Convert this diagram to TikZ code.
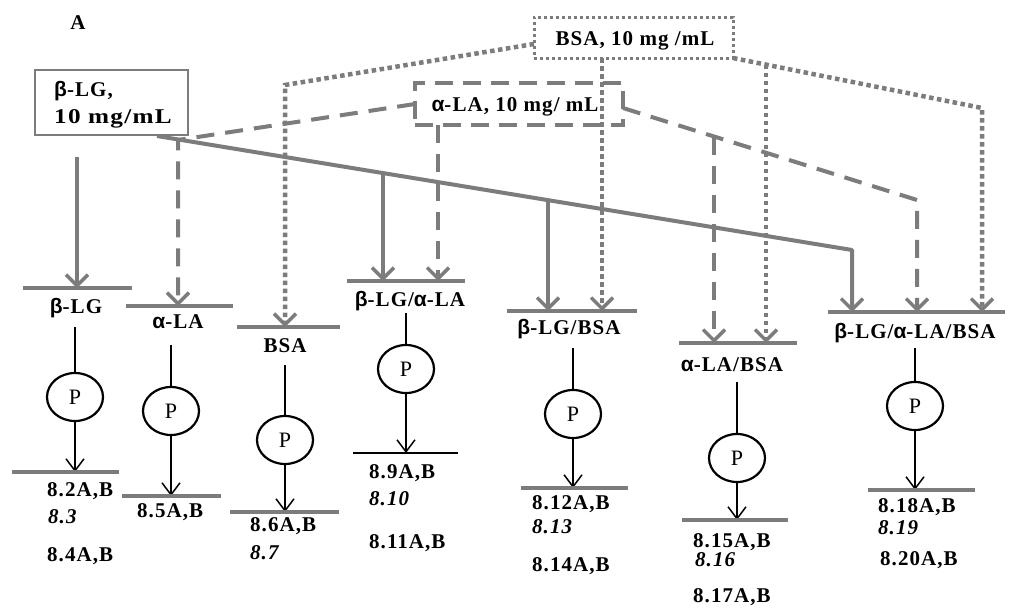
\documentclass[tikz,border=0pt]{standalone}
\usepackage{fontspec}
\setmainfont{Liberation Serif}[LetterSpace=5]
\newfontfamily\gkfont{Liberation Sans}[LetterSpace=5]
\usetikzlibrary{arrows.meta,shapes.geometric}
\definecolor{gcol}{HTML}{7C7C7C}
\newcommand\myb{{\gkfont\bfseries β}}
\newcommand\mya{{\gkfont\bfseries α}}
\tikzset{
  lab/.style={font=\fontsize{21}{23}\selectfont\bfseries, inner sep=0pt},
  labi/.style={font=\fontsize{21}{23}\selectfont\bfseries\itshape, inner sep=0pt},
  gsolid/.style={draw=gcol, line width=4pt, line join=round},
  gtip/.style={-{Straight Barb[length=11pt,width=22pt,line width=3.5pt]}},
  solidarr/.style={gsolid, gtip},
  dasharr/.style={draw=gcol, line width=4pt, dash pattern=on 18pt off 11pt, gtip},
  dotarr/.style={draw=gcol, line width=4.5pt, dash pattern=on 4.5pt off 3.5pt, gtip},
  gbar/.style={draw=gcol, line width=3.5pt},
  kbar/.style={draw=black, line width=2.5pt},
  thinline/.style={draw=black, line width=1.5pt},
  thinarr/.style={thinline, -{Straight Barb[length=12pt,width=18pt,line width=1.5pt]}},
  pnode/.style={ellipse, draw=black, line width=2.2pt, minimum width=56pt, minimum height=48pt, inner sep=0pt, font=\fontsize{22}{22}\selectfont},
}
\begin{document}
\begin{tikzpicture}[x=1pt,y=-1pt]
\useasboundingbox (0,0) rectangle (1010,616);
\fill[white] (0,0) rectangle (1010,616);

% title
\node[lab, anchor=base] (title) at (78,29) {A};

% source boxes
\node[draw=gcol, line width=2.5pt, minimum width=153pt, minimum height=65pt, inner sep=0pt] (boxLG) at (111.5,102.5) {};
\node[lab, anchor=base west] (boxLGa) at (54,96) {\myb-LG,};
\node[lab, anchor=base west] (boxLGb) at (54,123) {\scalebox{1.2}[1]{10 mg/mL}};

\node[draw=gcol, line width=3.5pt, dash pattern=on 18pt off 10pt, minimum width=208pt, minimum height=42pt, inner sep=0pt] (boxLA) at (519,104) {};
\node[lab, anchor=base] (boxLAt) at (515,111) {\mya-LA, 10 mg/ mL};

\node[draw=gcol, line width=3pt, dash pattern=on 3pt off 3pt, minimum width=199pt, minimum height=41pt, inner sep=0pt] (boxBSA) at (633.5,37.5) {};
\node[lab, anchor=base] (boxBSAt) at (635,45) {BSA, 10 mg /mL};

% coordinates
\coordinate (s0) at (157,136);
\coordinate (s3) at (383,173.7);
\coordinate (s5) at (548,200.6);
\coordinate (s7) at (852,250);
\coordinate (lgv) at (77,157);
\coordinate (t1) at (77,288);
\coordinate (t2) at (178,306);
\coordinate (t3) at (285,327);
\coordinate (t4a) at (383,281);
\coordinate (t4b) at (438,281);
\coordinate (t5a) at (548,311);
\coordinate (t5b) at (602,311);
\coordinate (t6a) at (714,343);
\coordinate (t6b) at (766,343);
\coordinate (t7a) at (852,312);
\coordinate (t7b) at (917,312);
\coordinate (t7c) at (982,312);
\coordinate (d0) at (415,104);
\coordinate (d1) at (178,140);
\coordinate (d4) at (438,125);
\coordinate (d6s) at (623,108);
\coordinate (d6) at (714,136.5);
\coordinate (d7) at (917,200);
\coordinate (e0) at (534,44);
\coordinate (e1) at (285,85);
\coordinate (e5) at (602,58);
\coordinate (e6s) at (733,58);
\coordinate (e6) at (766,64.6);
\coordinate (e7) at (982,108);

% solid connectors (beta-LG)
\draw[solidarr] (lgv) -- (t1);
\draw[solidarr] (s0) -- (s7) -- (t7a);
\draw[solidarr] (s3) -- (t4a);
\draw[solidarr] (s5) -- (t5a);

% dashed connectors (alpha-LA)
\draw[dasharr] (d0) -- (d1) -- (t2);
\draw[dasharr] (d4) -- (t4b);
\draw[dasharr] (d6s) -- (d7) -- (t7b);
\draw[dasharr] (d6) -- (t6a);

% dotted connectors (BSA)
\draw[dotarr] (e0) -- (e1) -- (t3);
\draw[dotarr] (e5) -- (t5b);
\draw[dotarr] (e6s) -- (e7) -- (t7c);
\draw[dotarr] (e6) -- (t6b);

% top bars
\draw[gbar] (23,288) -- (132,288);
\draw[gbar] (126,306) -- (233,306);
\draw[gbar] (237,327) -- (340,327);
\draw[gbar] (347,281) -- (465,281);
\draw[gbar] (507,311) -- (637,311);
\draw[gbar] (679,343) -- (797,343);
\draw[gbar] (828,312) -- (1005,312);

% mixture labels
\node[lab, anchor=base] (m1) at (76,313) {\myb-LG};
\node[lab, anchor=base] (m2) at (178,328) {\mya-LA};
\node[lab, anchor=base] (m3) at (285,352) {BSA};
\node[lab, anchor=base] (m4) at (410,306) {\myb-LG/\mya-LA};
\node[lab, anchor=base] (m5) at (569,334) {\myb-LG/BSA};
\node[lab, anchor=base] (m6) at (732,371) {\mya-LA/BSA};
\node[lab, anchor=base] (m7) at (915,338) {\myb-LG/\mya-LA/BSA};

% process circles
\node[pnode] (p1) at (75,397) {P};
\node[pnode] (p2) at (171,411) {P};
\node[pnode] (p3) at (285,440) {P};
\node[pnode] (p4) at (406,369) {P};
\node[pnode] (p5) at (573,414) {P};
\node[pnode] (p6) at (737,458) {P};
\node[pnode] (p7) at (915,406) {P};

\coordinate (u1) at (75,327);
\coordinate (u2) at (171,345);
\coordinate (u3) at (285,365);
\coordinate (u4) at (406,313);
\coordinate (u5) at (573,348);
\coordinate (u6) at (737,382);
\coordinate (u7) at (915,348);
\coordinate (b1) at (75,472);
\coordinate (b2) at (171,496);
\coordinate (b3) at (285,512);
\coordinate (b4) at (406,453);
\coordinate (b5) at (573,488);
\coordinate (b6) at (737,520);
\coordinate (b7) at (915,490);

\foreach \i in {1,...,7}{
  \draw[thinline] (u\i) -- (p\i.north);
  \draw[thinarr] (p\i.south) -- (b\i);
}

% bottom bars
\draw[gbar] (12,472) -- (119,472);
\draw[gbar] (122,496) -- (221,496);
\draw[gbar] (230,512) -- (339,512);
\draw[kbar] (353,453) -- (458,453);
\draw[gbar] (521,488) -- (628,488);
\draw[gbar] (682,520) -- (788,520);
\draw[gbar] (868,490) -- (975,490);

% results
\node[lab, anchor=base west] (r1a) at (47,496) {8.2A,B};
\node[labi, anchor=base west] (r1b) at (48,523) {8.3};
\node[lab, anchor=base west] (r1c) at (47,561) {8.4A,B};
\node[lab, anchor=base west] (r2a) at (137,517) {8.5A,B};
\node[lab, anchor=base west] (r3a) at (250,531) {8.6A,B};
\node[labi, anchor=base west] (r3b) at (250,559) {8.7};
\node[lab, anchor=base west] (r4a) at (369,478) {8.9A,B};
\node[labi, anchor=base west] (r4b) at (369,505) {8.10};
\node[lab, anchor=base west] (r4c) at (369,548) {8.11A,B};
\node[lab, anchor=base west] (r5a) at (532,509) {8.12A,B};
\node[labi, anchor=base west] (r5b) at (532,533) {8.13};
\node[lab, anchor=base west] (r5c) at (532,571) {8.14A,B};
\node[lab, anchor=base west] (r6a) at (693,547) {8.15A,B};
\node[labi, anchor=base west] (r6b) at (695,566) {8.16};
\node[lab, anchor=base west] (r6c) at (693,602) {8.17A,B};
\node[lab, anchor=base west] (r7a) at (878,512) {8.18A,B};
\node[labi, anchor=base west] (r7b) at (878,534) {8.19};
\node[lab, anchor=base west] (r7c) at (880,565) {8.20A,B};
\end{tikzpicture}
\end{document}
